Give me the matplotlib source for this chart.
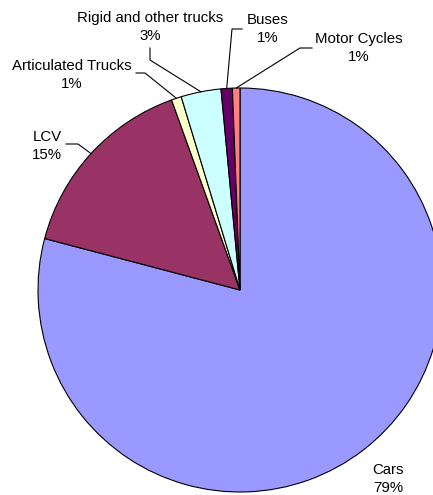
import matplotlib
matplotlib.use("Agg")
import matplotlib.pyplot as plt
import numpy as np

categories = ["Cars", "LCV", "Articulated Trucks", "Rigid and other trucks", "Buses", "Motor Cycles"]
values = [79.1, 15.4, 0.8, 3.2, 0.9, 0.6]
pct_labels = ["79%", "15%", "1%", "3%", "1%", "1%"]
colors = ["#9999FF", "#993366", "#FFFFCC", "#CCFFFF", "#660066", "#FF8080"]

W, H = 433, 495
fig = plt.figure(figsize=(W / 100, H / 100), dpi=100)
ax = fig.add_axes([0, 0, 1, 1])

cx, cy, R = 240, H - 290, 202
wedges, _ = ax.pie(values, colors=colors, startangle=90, counterclock=False,
                   center=(cx, cy), radius=R, frame=True,
                   wedgeprops=dict(edgecolor="black", linewidth=0.8))
ax.set_xlim(0, W)
ax.set_ylim(0, H)
ax.set_aspect("equal")
ax.axis("off")

# layout: text centre (px from top), leader start, leader elbow (None = no leader)
layout = {
    "Cars": ((388, 479), None, None),
    "LCV": ((47, 146), (66, 144), (78, 144)),
    "Articulated Trucks": ((72, 75), (136, 73), (145, 73)),
    "Rigid and other trucks": ((150, 27), (150, 48), (150, 60)),
    "Buses": ((268, 29), (242, 29), (232, 29)),
    "Motor Cycles": ((359, 48), (312, 48), (300, 48)),
}

for w, cat, pl in zip(wedges, categories, pct_labels):
    (tx, ty), start, elbow = layout[cat]
    ax.text(tx, H - ty, f"{cat}\n{pl}", ha="center", va="center",
            fontsize=10.8, family="Liberation Sans", linespacing=1.35)
    if start is not None:
        mid = np.deg2rad((w.theta1 + w.theta2) / 2)
        ex, ey = cx + R * np.cos(mid), cy + R * np.sin(mid)
        ax.plot([start[0], elbow[0], ex], [H - start[1], H - elbow[1], ey],
                color="black", linewidth=0.8)

fig.savefig("out.png", dpi=100)
